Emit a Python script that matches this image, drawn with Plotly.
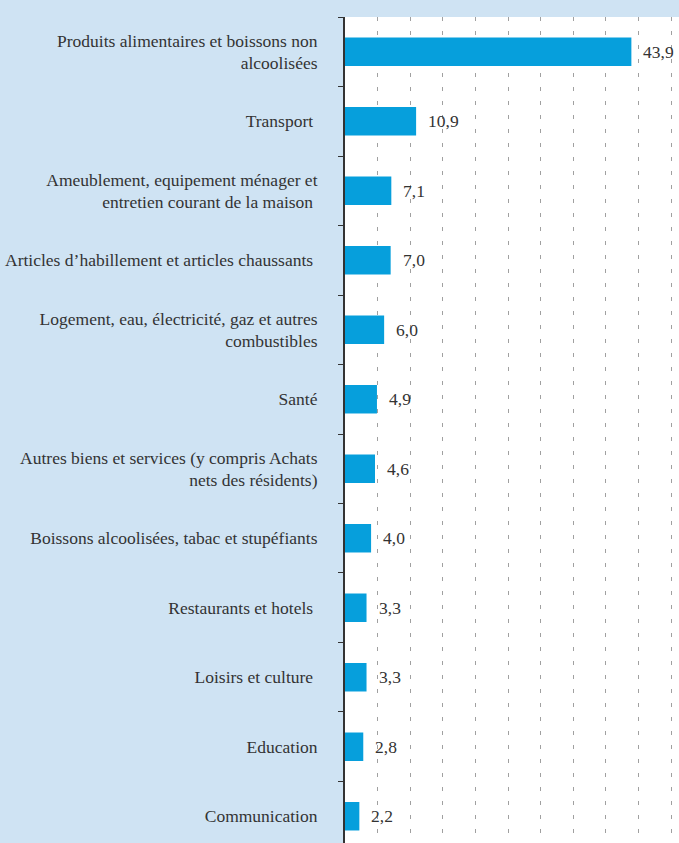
import plotly.graph_objects as go

# Categories top to bottom, shares in percent
categories = [
    "Produits alimentaires et boissons non<br>alcoolisées",
    "Transport\u00a0",
    "Ameublement, equipement ménager et<br>entretien courant de la maison\u00a0",
    "Articles d\u2019habillement et articles chaussants\u00a0",
    "Logement, eau, électricité, gaz et autres<br>combustibles",
    "Santé",
    "Autres biens et services (y compris Achats<br>nets des résidents)",
    "Boissons alcoolisées, tabac et stupéfiants",
    "Restaurants et hotels\u00a0",
    "Loisirs et culture\u00a0",
    "Education",
    "Communication",
]
values = [43.9, 10.9, 7.1, 7.0, 6.0, 4.9, 4.6, 4.0, 3.3, 3.3, 2.8, 2.2]

BAR = "#069fdc"
BG = "#cfe3f3"
FONT = "Liberation Serif, DejaVu Serif, serif"

fig = go.Figure()
fig.add_trace(
    go.Bar(
        x=values,
        y=categories,
        orientation="h",
        width=0.41,
        marker=dict(color=BAR, line=dict(width=0)),
        hoverinfo="skip",
    )
)

# value labels just right of each bar
for cat, val in zip(categories, values):
    fig.add_annotation(
        x=val,
        y=cat,
        text=f"{val:.1f}".replace(".", ","),
        showarrow=False,
        xanchor="left",
        xshift=10,
        font=dict(family=FONT, size=17.5, color="#333333"),
    )

fig.update_layout(
    width=679,
    height=843,
    margin=dict(l=345, r=0, t=17, b=0),
    paper_bgcolor=BG,
    plot_bgcolor="white",
    showlegend=False,
    font=dict(family=FONT, size=17.5, color="#333333"),
)
fig.update_xaxes(
    range=[0, 51.2],
    dtick=5,
    showticklabels=False,
    showgrid=True,
    gridcolor="#a0a0a0",
    gridwidth=1,
    griddash="4px,10px",
    zeroline=False,
    showline=False,
    fixedrange=True,
)
fig.update_yaxes(
    categoryorder="array",
    categoryarray=categories,
    range=[11.385, -0.5],
    showline=True,
    linecolor="#333333",
    linewidth=2,
    ticks="outside",
    tickson="boundaries",
    ticklen=5,
    tickcolor="#333333",
    tickwidth=1,
    ticklabelstandoff=22,
    showgrid=False,
    fixedrange=True,
    tickfont=dict(family=FONT, size=17.5, color="#333333"),
)

# drop the default page margin so the figure fills the window exactly
fig.write_html(
    "out.html",
    config={"displayModeBar": False},
    post_script="document.body.style.margin='0';",
)
